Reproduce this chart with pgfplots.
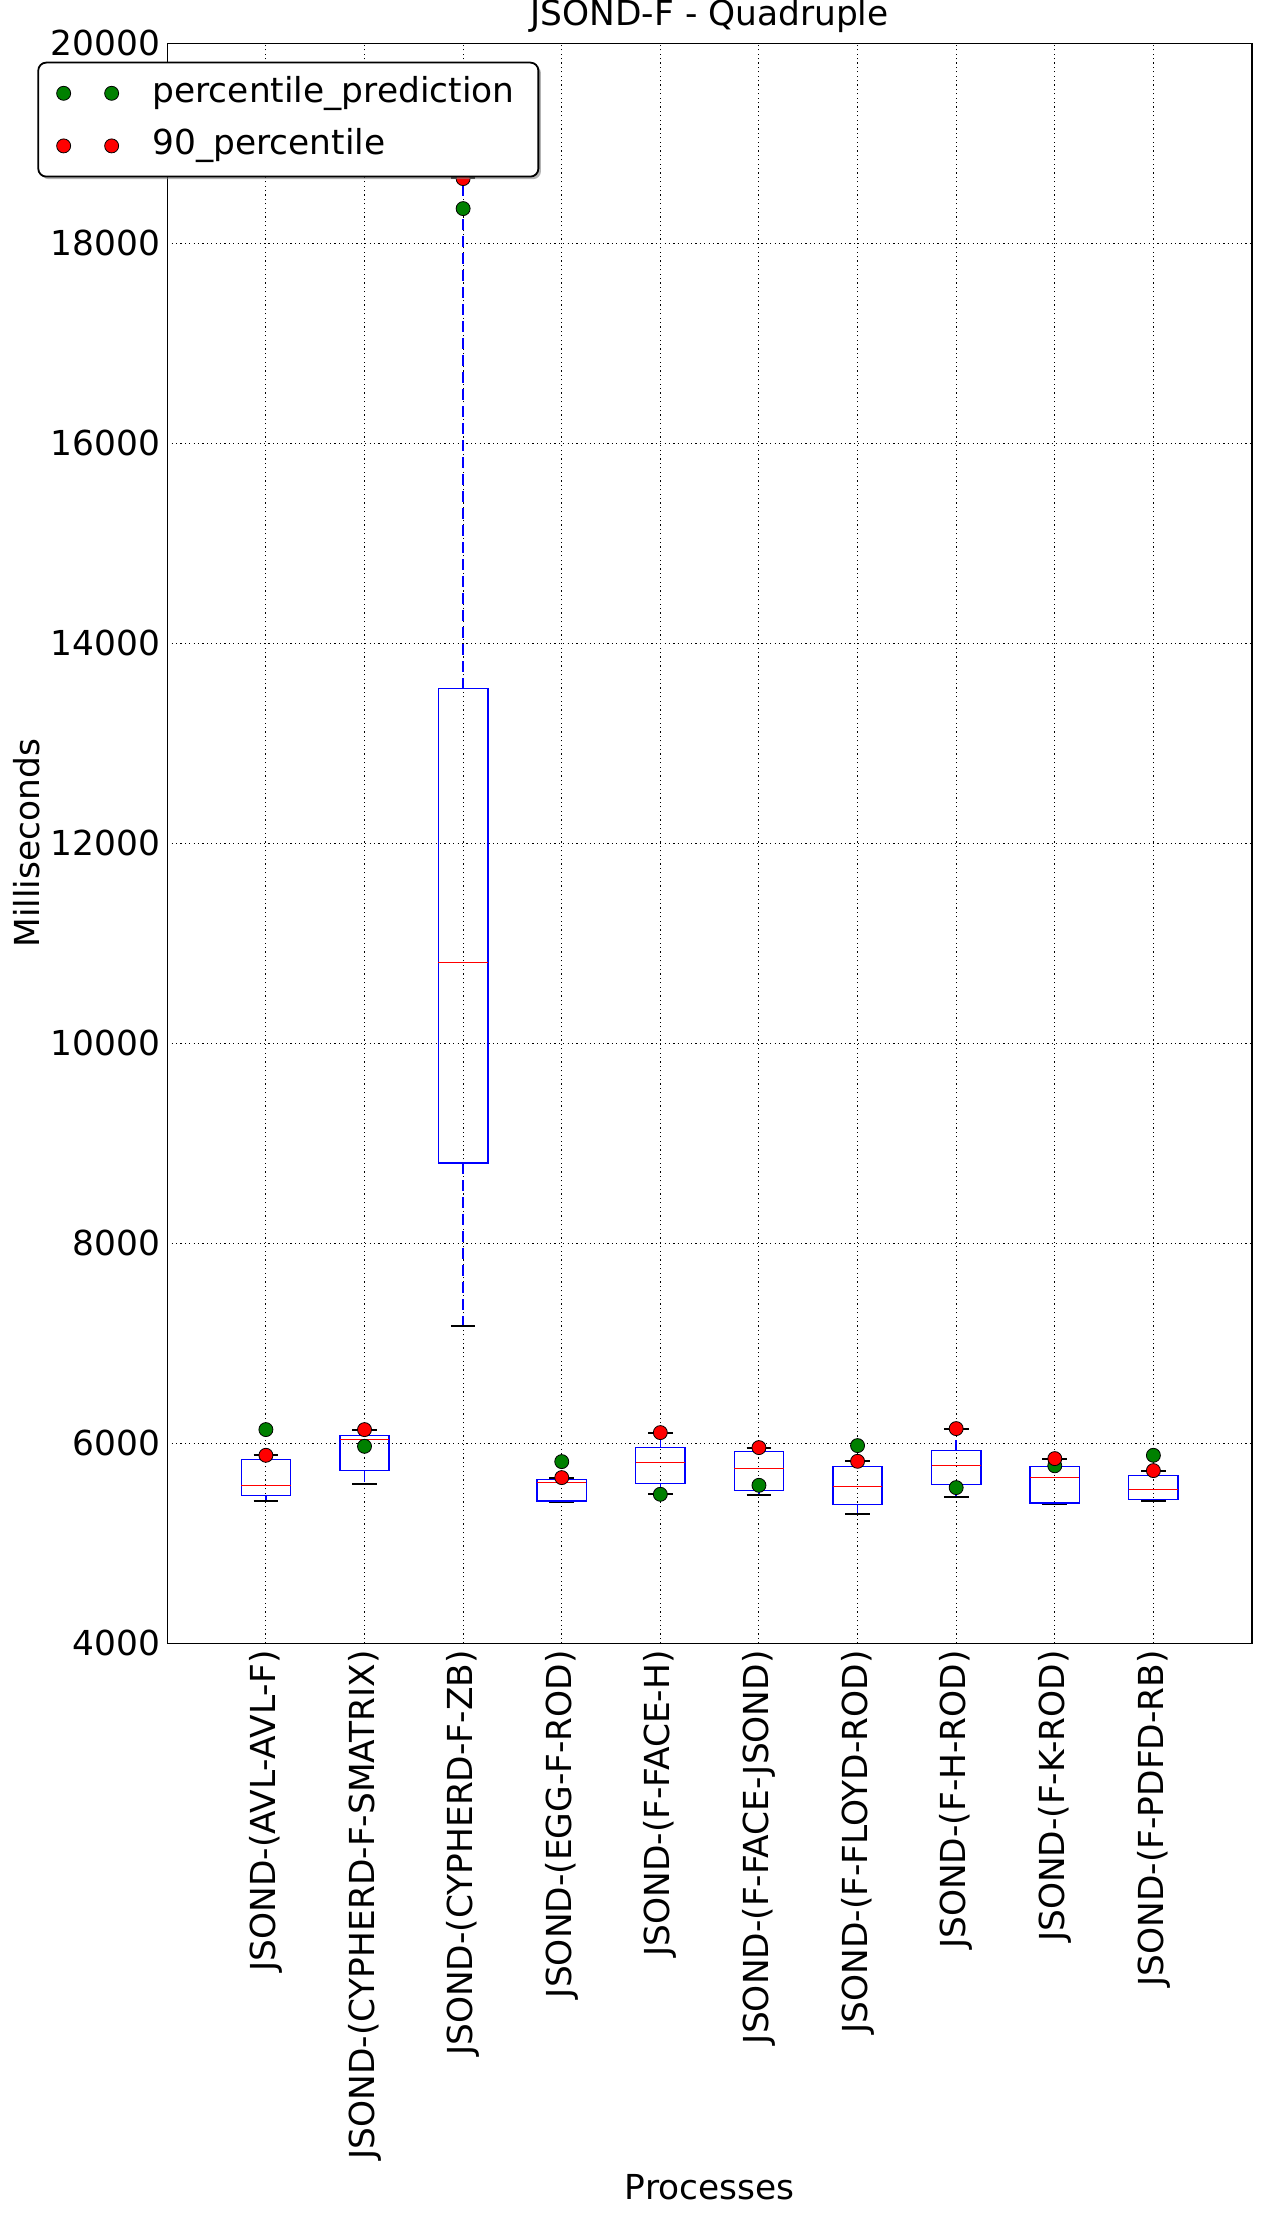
\documentclass[border=0pt]{standalone}
\usepackage{fontspec}
\setmainfont{DejaVu Sans}
\usepackage{pgfplots}
\pgfplotsset{compat=1.18}
\usetikzlibrary{shadows}
\makeatletter
\tikzset{no preactions/.code={\let\tikz@preactions\pgfutil@empty}}
\makeatother
\definecolor{mplgreen}{rgb}{0,0.5,0}
\newcommand{\fs}{\fontsize{17.2}{20.6}\selectfont}
% box: position, lower whisker, lower quartile, median, upper quartile, upper whisker
\newcommand{\bx}[6]{%
  \pgfmathsetmacro\xa{#1-0.25}\pgfmathsetmacro\xb{#1+0.25}%
  \pgfmathsetmacro\ca{#1-0.125}\pgfmathsetmacro\cb{#1+0.125}%
  \addplot[forget plot, blue, line width=0.75pt, dash pattern=on 5.5pt off 3pt] coordinates {(#1,#3) (#1,#2)};
  \addplot[forget plot, blue, line width=0.75pt, dash pattern=on 5.5pt off 3pt] coordinates {(#1,#5) (#1,#6)};
  \addplot[forget plot, black, line width=0.9pt] coordinates {(\ca,#2) (\cb,#2)};
  \addplot[forget plot, black, line width=0.9pt] coordinates {(\ca,#6) (\cb,#6)};
  \addplot[forget plot, blue, line width=0.75pt, line cap=rect] coordinates {(\xa,#3) (\xb,#3) (\xb,#5) (\xa,#5) (\xa,#3)};
  \addplot[forget plot, red, line width=0.75pt] coordinates {(\xa,#4) (\xb,#4)};
}
\begin{document}
\begin{tikzpicture}
\begin{axis}[
  width=542.35pt, height=800pt, scale only axis,
  xmin=0, xmax=11, ymin=4000, ymax=20000,
  xtick={1,...,10},
  xticklabels={JSOND-(AVL-AVL-F),JSOND-(CYPHERD-F-SMATRIX),JSOND-(CYPHERD-F-ZB),JSOND-(EGG-F-ROD),JSOND-(F-FACE-H),JSOND-(F-FACE-JSOND),JSOND-(F-FLOYD-ROD),JSOND-(F-H-ROD),JSOND-(F-K-ROD),JSOND-(F-PDFD-RB)},
  ytick={4000,6000,...,20000},
  /pgf/number format/assume math mode=true,
  yticklabel style={/pgf/number format/1000 sep={}},
  scaled y ticks=false,
  tick label style={font=\fs},
  xticklabel style={rotate=90, anchor=east},
  major tick length=0pt,
  grid=major,
  major grid style={draw=black, line width=0.5pt, dash pattern=on 0.6pt off 1.6pt},
  axis line style={line width=0.7pt},
  title={JSOND-F - Quadruple},
  title style={font=\fs, at={(axis description cs:0.5,1)}, anchor=base, yshift=2.8pt},
  xlabel={Processes},
  ylabel={Milliseconds},
  xlabel style={font=\fs, at={(axis description cs:0.5,-0.340)}, anchor=center},
  ylabel style={font=\fs, at={(axis description cs:-0.1298,0.5)}, anchor=center},
  legend style={at={(axis description cs:-0.1198,0.9885)}, anchor=north west,
    draw=black, line width=0.9pt, fill=white, rounded corners=4pt,
    inner xsep=9pt, inner ysep=2.2pt, font=\fs,
    drop shadow={shadow xshift=1.3pt, shadow yshift=-1.3pt, fill=black!50, opacity=0.6},
    nodes={inner xsep=3pt, inner ysep=4.7pt, text height=12.9pt, text depth=4pt},
    row sep=0pt},
  legend cell align=left,
]
\coordinate (SW) at (rel axis cs:0,0);
\coordinate (NE) at (rel axis cs:1,1);
\bx{1}{5427}{5477}{5577}{5837}{5887}
\bx{2}{5597}{5727}{6037}{6077}{6137}
\bx{3}{7175}{8802}{10808}{13547}{18650}
\bx{4}{5417}{5423}{5607}{5640}{5657}
\bx{5}{5497}{5597}{5810}{5957}{6107}
\bx{6}{5487}{5527}{5747}{5917}{5957}
\bx{7}{5297}{5387}{5567}{5767}{5820}
\bx{8}{5460}{5587}{5777}{5927}{6147}
\bx{9}{5397}{5403}{5657}{5767}{5843}
\bx{10}{5420}{5437}{5540}{5677}{5727}
% percentile_prediction
\addplot[forget plot, only marks, mark=*, mark size=3.5pt, mark options={fill=mplgreen, draw=black, line width=0.4pt}]
  coordinates {(1,6137) (2,5970) (3,18347) (4,5817) (5,5490) (6,5580) (7,5977) (8,5557) (9,5775) (10,5880)};
% 90_percentile
\addplot[forget plot, only marks, mark=*, mark size=3.5pt, mark options={fill=red, draw=black, line width=0.4pt}]
  coordinates {(1,5880) (2,6137) (3,18647) (4,5657) (5,6107) (6,5957) (7,5820) (8,6147) (9,5847) (10,5727)};
\addlegendimage{legend image code/.code={\filldraw[no preactions,fill=mplgreen,draw=black,line width=0.4pt] (0pt,0pt) circle[radius=3.5pt] (24pt,0pt) circle[radius=3.5pt]; \path (41pt,0pt);}}
\addlegendentry{percentile\_prediction}
\addlegendimage{legend image code/.code={\filldraw[no preactions,fill=red,draw=black,line width=0.4pt] (0pt,0pt) circle[radius=3.5pt] (24pt,0pt) circle[radius=3.5pt]; \path (41pt,0pt);}}
\addlegendentry{90\_percentile}
\end{axis}
\pgfresetboundingbox
\path ([shift={(-83.65pt,-286.85pt)}]SW) rectangle ([shift={(4.5pt,21.65pt)}]NE);
\end{tikzpicture}
\end{document}
